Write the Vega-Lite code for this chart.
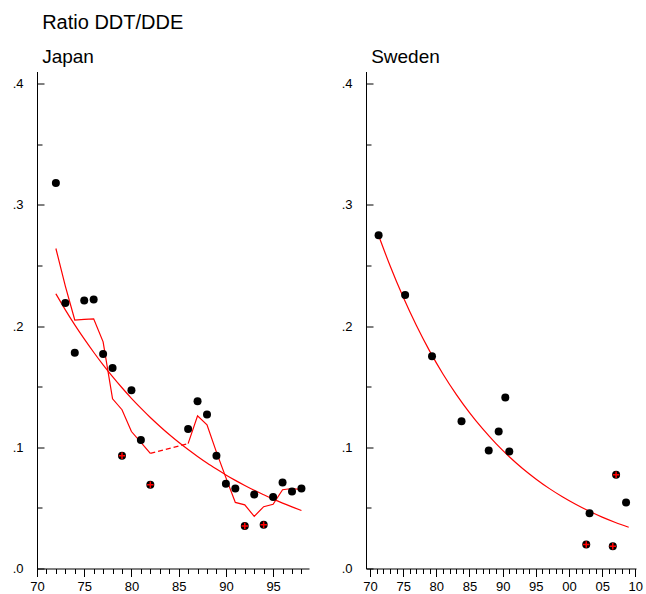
{
  "$schema": "https://vega.github.io/schema/vega-lite/v6.json",
  "background": "white",
  "padding": {"left": 12, "top": 12.5, "right": 5, "bottom": 0},
  "title": {"text": "Ratio DDT/DDE", "anchor": "start", "dx": 30, "dy": 2, "offset": 1, "fontSize": 20, "fontWeight": "normal", "font": "Liberation Sans", "color": "black", "baseline": "alphabetic"},
  "config": {
    "view": {"stroke": null},
    "axis": {"domainColor": "black", "tickColor": "black", "labelColor": "black", "labelFont": "Liberation Sans", "labelFontSize": 13, "grid": false, "title": null, "labelOverlap": false, "labelFlush": false, "domainWidth": 1, "tickWidth": 1}
  },
  "spacing": 32,
  "datasets": {
    "japan_pts": [
      {"year": 1972, "ratio": 0.318, "flag": false},
      {"year": 1973, "ratio": 0.219, "flag": false},
      {"year": 1974, "ratio": 0.178, "flag": false},
      {"year": 1975, "ratio": 0.221, "flag": false},
      {"year": 1976, "ratio": 0.222, "flag": false},
      {"year": 1977, "ratio": 0.177, "flag": false},
      {"year": 1978, "ratio": 0.1655, "flag": false},
      {"year": 1979, "ratio": 0.093, "flag": true},
      {"year": 1980, "ratio": 0.147, "flag": false},
      {"year": 1981, "ratio": 0.106, "flag": false},
      {"year": 1982, "ratio": 0.069, "flag": true},
      {"year": 1986, "ratio": 0.115, "flag": false},
      {"year": 1987, "ratio": 0.138, "flag": false},
      {"year": 1988, "ratio": 0.127, "flag": false},
      {"year": 1989, "ratio": 0.093, "flag": false},
      {"year": 1990, "ratio": 0.070, "flag": false},
      {"year": 1991, "ratio": 0.066, "flag": false},
      {"year": 1992, "ratio": 0.035, "flag": true},
      {"year": 1993, "ratio": 0.061, "flag": false},
      {"year": 1994, "ratio": 0.036, "flag": true},
      {"year": 1995, "ratio": 0.059, "flag": false},
      {"year": 1996, "ratio": 0.071, "flag": false},
      {"year": 1997, "ratio": 0.0635, "flag": false},
      {"year": 1998, "ratio": 0.066, "flag": false}
    ],
    "japan_ma": [
      {"year": 1972, "ratio": 0.264, "part": "a"},
      {"year": 1973, "ratio": 0.233, "part": "a"},
      {"year": 1974, "ratio": 0.205, "part": "a"},
      {"year": 1975, "ratio": 0.2055, "part": "a"},
      {"year": 1976, "ratio": 0.206, "part": "a"},
      {"year": 1977, "ratio": 0.187, "part": "a"},
      {"year": 1978, "ratio": 0.140, "part": "a"},
      {"year": 1979, "ratio": 0.131, "part": "a"},
      {"year": 1980, "ratio": 0.113, "part": "a"},
      {"year": 1981, "ratio": 0.104, "part": "a"},
      {"year": 1982, "ratio": 0.095, "part": "a"},
      {"year": 1982, "ratio": 0.095, "part": "gap"},
      {"year": 1986, "ratio": 0.103, "part": "gap"},
      {"year": 1986, "ratio": 0.103, "part": "b"},
      {"year": 1987, "ratio": 0.126, "part": "b"},
      {"year": 1988, "ratio": 0.1185, "part": "b"},
      {"year": 1989, "ratio": 0.096, "part": "b"},
      {"year": 1990, "ratio": 0.075, "part": "b"},
      {"year": 1991, "ratio": 0.0545, "part": "b"},
      {"year": 1992, "ratio": 0.0525, "part": "b"},
      {"year": 1993, "ratio": 0.043, "part": "b"},
      {"year": 1994, "ratio": 0.051, "part": "b"},
      {"year": 1995, "ratio": 0.053, "part": "b"},
      {"year": 1996, "ratio": 0.065, "part": "b"},
      {"year": 1997, "ratio": 0.066, "part": "b"},
      {"year": 1998, "ratio": 0.065, "part": "b"}
    ],
    "japan_fit": [
      {"year": 1972, "ratio": 0.2266},
      {"year": 1973, "ratio": 0.2134},
      {"year": 1974, "ratio": 0.2010},
      {"year": 1975, "ratio": 0.1894},
      {"year": 1976, "ratio": 0.1784},
      {"year": 1977, "ratio": 0.1680},
      {"year": 1978, "ratio": 0.1583},
      {"year": 1979, "ratio": 0.1491},
      {"year": 1980, "ratio": 0.1404},
      {"year": 1981, "ratio": 0.1323},
      {"year": 1982, "ratio": 0.1246},
      {"year": 1983, "ratio": 0.1174},
      {"year": 1984, "ratio": 0.1105},
      {"year": 1985, "ratio": 0.1041},
      {"year": 1986, "ratio": 0.0981},
      {"year": 1987, "ratio": 0.0924},
      {"year": 1988, "ratio": 0.0870},
      {"year": 1989, "ratio": 0.0820},
      {"year": 1990, "ratio": 0.0772},
      {"year": 1991, "ratio": 0.0727},
      {"year": 1992, "ratio": 0.0685},
      {"year": 1993, "ratio": 0.0645},
      {"year": 1994, "ratio": 0.0608},
      {"year": 1995, "ratio": 0.0572},
      {"year": 1996, "ratio": 0.0539},
      {"year": 1997, "ratio": 0.0508},
      {"year": 1998, "ratio": 0.0478}
    ],
    "sweden_pts": [
      {"year": 1971.3, "ratio": 0.275, "flag": false},
      {"year": 1975.3, "ratio": 0.2257, "flag": false},
      {"year": 1979.35, "ratio": 0.175, "flag": false},
      {"year": 1983.8, "ratio": 0.1215, "flag": false},
      {"year": 1987.9, "ratio": 0.0973, "flag": false},
      {"year": 1989.4, "ratio": 0.113, "flag": false},
      {"year": 1990.4, "ratio": 0.141, "flag": false},
      {"year": 1991.0, "ratio": 0.0965, "flag": false},
      {"year": 2002.6, "ratio": 0.0198, "flag": true},
      {"year": 2003.1, "ratio": 0.0456, "flag": false},
      {"year": 2006.6, "ratio": 0.0184, "flag": true},
      {"year": 2007.1, "ratio": 0.0773, "flag": true},
      {"year": 2008.6, "ratio": 0.0544, "flag": false}
    ],
    "sweden_fit": [
      {"year": 1971.4, "ratio": 0.2733},
      {"year": 1973, "ratio": 0.2501},
      {"year": 1975, "ratio": 0.2239},
      {"year": 1977, "ratio": 0.2004},
      {"year": 1979, "ratio": 0.1793},
      {"year": 1981, "ratio": 0.1605},
      {"year": 1983, "ratio": 0.1437},
      {"year": 1985, "ratio": 0.1286},
      {"year": 1987, "ratio": 0.1151},
      {"year": 1989, "ratio": 0.1030},
      {"year": 1991, "ratio": 0.0922},
      {"year": 1993, "ratio": 0.0825},
      {"year": 1995, "ratio": 0.0739},
      {"year": 1997, "ratio": 0.0661},
      {"year": 1999, "ratio": 0.0592},
      {"year": 2001, "ratio": 0.0530},
      {"year": 2003, "ratio": 0.0474},
      {"year": 2005, "ratio": 0.0424},
      {"year": 2007, "ratio": 0.0380},
      {"year": 2009, "ratio": 0.0340}
    ]
  },
  "hconcat": [
    {
      "title": {"text": "Japan", "anchor": "start", "dx": 30, "offset": -10, "fontSize": 19, "fontWeight": "normal", "font": "Liberation Sans", "color": "black", "baseline": "alphabetic"},
      "width": 272,
      "height": 497,
      "encoding": {
        "x": {"field": "year", "type": "quantitative", "scale": {"domain": [1970, 1998.8], "nice": false, "zero": false},
          "axis": {"values": [1970,1971,1972,1973,1974,1975,1976,1977,1978,1979,1980,1981,1982,1983,1984,1985,1986,1987,1988,1989,1990,1991,1992,1993,1994,1995,1996,1997,1998],
            "labelExpr": "datum.value % 5 == 0 ? slice(toString(datum.value), 2) : ''",
            "tickSize": {"condition": {"test": "datum.value % 5 == 0", "value": 8}, "value": 5},
            "labelPadding": 4}},
        "y": {"field": "ratio", "type": "quantitative", "scale": {"domain": [0, 0.41], "nice": false},
          "axis": {"values": [0, 0.05, 0.1, 0.15, 0.2, 0.25, 0.3, 0.35, 0.4],
            "labelExpr": "round(datum.value*20) % 2 == 0 ? replace(format(datum.value, '.1f'), '0.', '.') : ''",
            "tickSize": {"condition": {"test": "round(datum.value*20) % 2 == 0", "value": -7}, "value": -5},
            "labelPadding": 21}}
      },
      "layer": [
        {"data": {"name": "japan_fit"}, "mark": {"type": "line", "color": "red", "strokeWidth": 1.2, "interpolate": "monotone"}},
        {"data": {"name": "japan_ma"}, "transform": [{"filter": "datum.part != 'gap'"}], "mark": {"type": "line", "color": "red", "strokeWidth": 1.2}, "encoding": {"detail": {"field": "part"}}},
        {"data": {"name": "japan_ma"}, "transform": [{"filter": "datum.part == 'gap'"}], "mark": {"type": "line", "color": "red", "strokeWidth": 1.2, "strokeDash": [5, 3]}},
        {"data": {"name": "japan_pts"}, "mark": {"type": "point", "filled": true, "color": "black", "size": 64, "opacity": 1}},
        {"data": {"name": "japan_pts"}, "transform": [{"filter": "datum.flag"}], "mark": {"type": "point", "shape": "M-1,0L1,0M0,-1L0,1", "filled": false, "stroke": "red", "strokeWidth": 1.5, "size": 42, "opacity": 1}}
      ]
    },
    {
      "title": {"text": "Sweden", "anchor": "start", "dx": 30, "offset": -10, "fontSize": 19, "fontWeight": "normal", "font": "Liberation Sans", "color": "black", "baseline": "alphabetic"},
      "width": 270,
      "height": 497,
      "encoding": {
        "x": {"field": "year", "type": "quantitative", "scale": {"domain": [1969.4, 2010.1], "nice": false, "zero": false},
          "axis": {"values": [1970,1971,1972,1973,1974,1975,1976,1977,1978,1979,1980,1981,1982,1983,1984,1985,1986,1987,1988,1989,1990,1991,1992,1993,1994,1995,1996,1997,1998,1999,2000,2001,2002,2003,2004,2005,2006,2007,2008,2009,2010],
            "labelExpr": "datum.value % 5 == 0 ? slice(toString(datum.value), 2) : ''",
            "tickSize": {"condition": {"test": "datum.value % 5 == 0", "value": 8}, "value": 5},
            "labelPadding": 4}},
        "y": {"field": "ratio", "type": "quantitative", "scale": {"domain": [0, 0.41], "nice": false},
          "axis": {"values": [0, 0.05, 0.1, 0.15, 0.2, 0.25, 0.3, 0.35, 0.4],
            "labelExpr": "round(datum.value*20) % 2 == 0 ? replace(format(datum.value, '.1f'), '0.', '.') : ''",
            "tickSize": {"condition": {"test": "round(datum.value*20) % 2 == 0", "value": -7}, "value": -5},
            "labelPadding": 21}}
      },
      "layer": [
        {"data": {"name": "sweden_fit"}, "mark": {"type": "line", "color": "red", "strokeWidth": 1.2, "interpolate": "monotone"}},
        {"data": {"name": "sweden_pts"}, "mark": {"type": "point", "filled": true, "color": "black", "size": 64, "opacity": 1}},
        {"data": {"name": "sweden_pts"}, "transform": [{"filter": "datum.flag"}], "mark": {"type": "point", "shape": "M-1,0L1,0M0,-1L0,1", "filled": false, "stroke": "red", "strokeWidth": 1.5, "size": 42, "opacity": 1}}
      ]
    }
  ]
}
